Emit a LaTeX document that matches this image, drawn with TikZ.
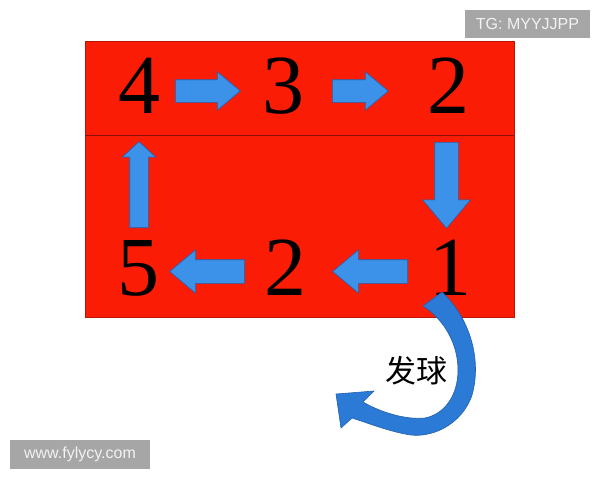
\documentclass[tikz,border=0pt]{standalone}
\usepackage{fontspec}
\setmainfont{Liberation Serif}
\newfontfamily\cjk{Noto Sans CJK SC}
\newfontfamily\wmfont{Liberation Sans}
\usetikzlibrary{shapes.arrows,calc}
\definecolor{boardred}{RGB}{250,28,5}
\definecolor{arrowblue}{RGB}{60,145,232}
\definecolor{arrowedge}{RGB}{35,95,175}
\definecolor{serveblue}{RGB}{42,122,214}
\definecolor{markgray}{RGB}{166,166,166}
\definecolor{marktext}{RGB}{242,242,242}

\begin{document}
\begin{tikzpicture}[x=1pt,y=-1pt,
    digit/.style={inner sep=0pt,font=\fontsize{84}{84}\selectfont},
    blockarrow/.style={single arrow,anchor=tail,fill=arrowblue,draw=arrowedge,line width=0.6pt,inner xsep=0pt,single arrow tip angle=80},
    watermark/.style={fill=markgray,text=marktext,font=\wmfont\fontsize{16}{16}\selectfont,inner sep=0pt}]
    \useasboundingbox (0,0) rectangle (600,480);
    \fill[white] (0,0) rectangle (600,480);
    \filldraw[fill=boardred,draw=boardred!75!black,line width=0.6pt] (85,41) rectangle (514,317);
    \draw[boardred!55!black,line width=0.8pt] (85,135) -- (514,135);
    \node[digit] (n4) at (139,86) {4};
    \node[digit] (n3) at (283,86) {3};
    \node[digit] (n2a) at (448,86) {2};
    \node[digit] (n5) at (138,268) {5};
    \node[digit] (n2b) at (285,268) {2};
    \node[digit] (n1) at (450,268) {1};
    \node[blockarrow,minimum height=65pt,inner ysep=11pt,single arrow head extend=8pt] (a43) at ($(n4)+(36,5)$) {};
    \node[blockarrow,minimum height=56pt,inner ysep=11pt,single arrow head extend=8pt] (a32) at ($(n3)+(49,5)$) {};
    \node[blockarrow,rotate=-90,minimum height=86pt,inner ysep=11.5pt,single arrow head extend=12pt] (a21) at ($(n2a)+(-1.5,56)$) {};
    \node[blockarrow,rotate=180,minimum height=75pt,inner ysep=11.5pt,single arrow head extend=10pt] (a12) at ($(n1)+(-42,3.5)$) {};
    \node[blockarrow,rotate=180,minimum height=75pt,inner ysep=11.5pt,single arrow head extend=10pt] (a25) at ($(n2b)+(-40,3.5)$) {};
    \node[blockarrow,rotate=90,minimum height=86pt,inner ysep=9pt,single arrow head extend=7.5pt,single arrow tip angle=95] (a54) at ($(n5)+(1,-40)$) {};
    \filldraw[fill=serveblue,draw=arrowedge,line width=0.6pt]
        (442,292) .. controls (470,318) and (482,360) .. (472,395)
        .. controls (462,425) and (430,440) .. (405,434)
        .. controls (385,430) and (365,422) .. (352,418)
        -- (341,428) -- (336,394) -- (374,391) -- (363,402)
        .. controls (380,412) and (405,420) .. (425,418)
        .. controls (445,414) and (458,395) .. (458,370)
        .. controls (458,345) and (445,320) .. (423,306) -- cycle;
    \node[font=\cjk\fontsize{31}{31}\selectfont] (serve) at (416,371) {发球};
    \node[watermark,minimum width=125pt,minimum height=28pt] (tg) at (527.5,24) {TG: MYYJJPP};
    \node[watermark,minimum width=140pt,minimum height=29pt] (site) at (80,454.5) {www.fylycy.com};
\end{tikzpicture}
\end{document}
